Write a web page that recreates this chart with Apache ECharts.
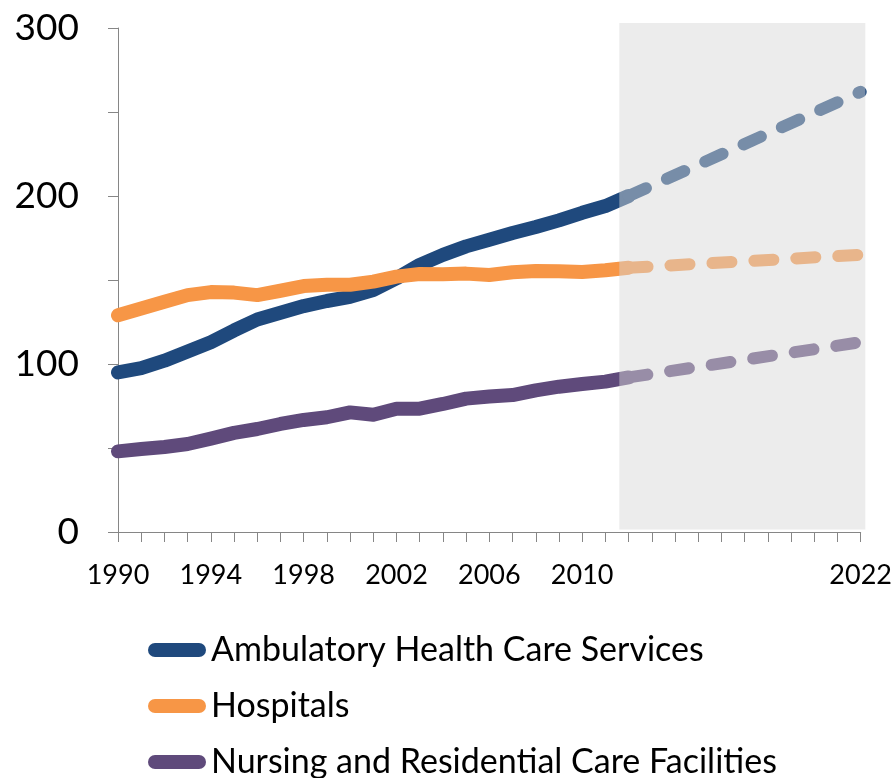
<!DOCTYPE html>
<html>
<head>
<meta charset="utf-8">
<script src="https://cdn.jsdelivr.net/npm/echarts@6/dist/echarts.min.js"></script>
<style>
  html, body { margin: 0; padding: 0; background: #ffffff; }
  #chart { width: 895px; height: 778px; }
</style>
</head>
<body>
<div id="chart"></div>
<script>
// Employment index by sector, actual 1990–2012 and projected 2012–2022
const years = [1990, 1991, 1992, 1993, 1994, 1995, 1996, 1997, 1998, 1999, 2000, 2001,
               2002, 2003, 2004, 2005, 2006, 2007, 2008, 2009, 2010, 2011, 2012];
const ambulatory = [95, 97.5, 102, 107.5, 113, 120, 126.5, 130.5, 134.5, 137.5, 140, 144,
                    151, 159, 165, 170, 174, 178, 181.5, 185.5, 190, 194, 200];
const hospitals = [129, 133, 137, 141, 142.8, 142.5, 141, 143.6, 146.4, 147.2, 147.2, 149,
                   152, 153.6, 153.4, 153.8, 153, 154.6, 155.4, 155.2, 154.8, 155.8, 157.3];
const nursing = [48, 49.4, 50.6, 52.4, 55.6, 59, 61.3, 64.3, 66.7, 68.3, 71.2, 69.8,
                 73.4, 73.4, 76.2, 79.4, 80.6, 81.5, 84.3, 86.5, 88.1, 89.5, 92];

// Projection endpoints
const projYears = [2012, 2022];
const ambulatoryProj = [200, 262];
const hospitalsProj = [157.3, 165];
const nursingProj = [92, 113];

// Shaded projection period [x0, x1, y0, y1]
const projectionBand = [[2011.6, 2022.2, 1.5, 303]];

const seriesNames = ['Ambulatory Health Care Services', 'Hospitals', 'Nursing and Residential Care Facilities'];
const colors = ['#1f497d', '#f79646', '#5f4a7b'];

const zip = (xs, ys) => xs.map((x, i) => [x, ys[i]]);

function solid(name, color, values) {
  return {
    name: name, type: 'line', data: zip(years, values),
    symbol: 'none', color: color, z: 2,
    lineStyle: { width: 14, color: color, cap: 'round', join: 'round' }
  };
}
function dashed(name, color, values) {
  return {
    name: name + ' (projected)', type: 'line', data: zip(projYears, values),
    symbol: 'none', color: color, z: 2,
    lineStyle: { width: 12, color: color, type: [19, 23], cap: 'round', join: 'round' }
  };
}

const font = 'Lato, "Open Sans", sans-serif';
const chart = echarts.init(document.getElementById('chart'));
chart.setOption({
  animation: false,
  backgroundColor: '#ffffff',
  grid: { left: 118, right: 33, top: 28, bottom: 246 },
  xAxis: {
    type: 'value', min: 1990, max: 2022, interval: 1,
    splitLine: { show: false },
    axisLine: { lineStyle: { color: '#868686', width: 1 } },
    axisTick: { length: 10, lineStyle: { color: '#868686' } },
    axisLabel: {
      color: '#000', fontFamily: font, fontSize: 27, margin: 30,
      formatter: v => ((v <= 2010 && (v - 1990) % 4 === 0) || v === 2022) ? String(v) : ''
    }
  },
  yAxis: {
    type: 'value', min: 0, max: 300, interval: 50,
    splitLine: { show: false },
    axisLine: { show: true, lineStyle: { color: '#868686', width: 1 } },
    axisTick: { show: true, length: 10, lineStyle: { color: '#868686' } },
    axisLabel: {
      color: '#000', fontFamily: font, fontSize: 37, margin: 39,
      formatter: v => (v % 100 === 0 ? String(v) : '')
    }
  },
  legend: {
    data: seriesNames,
    orient: 'vertical', left: 143, top: 628, height: 300, width: 740,
    itemWidth: 58, itemHeight: 14, itemGap: 22,
    icon: 'path://M7,0 L51,0 A7,7 0 0 1 51,14 L7,14 A7,7 0 0 1 7,0 Z',
    textStyle: { color: '#000', fontFamily: font, fontSize: 34, lineHeight: 34, padding: [0, 0, 0, 0] }
  },
  series: [
    solid(seriesNames[0], colors[0], ambulatory),
    solid(seriesNames[1], colors[1], hospitals),
    solid(seriesNames[2], colors[2], nursing),
    dashed(seriesNames[0], colors[0], ambulatoryProj),
    dashed(seriesNames[1], colors[1], hospitalsProj),
    dashed(seriesNames[2], colors[2], nursingProj),
    {
      name: 'projection period', type: 'custom', z: 10, silent: true,
      data: projectionBand,
      encode: { x: [0, 1], y: [2, 3] },
      renderItem: (params, api) => {
        const p0 = api.coord([api.value(0), api.value(3)]);
        const p1 = api.coord([api.value(1), api.value(2)]);
        return {
          type: 'rect',
          shape: { x: p0[0], y: p0[1], width: p1[0] - p0[0], height: p1[1] - p0[1] },
          style: { fill: 'rgba(215,215,215,0.48)' }
        };
      }
    }
  ]
});
</script>
</body>
</html>
